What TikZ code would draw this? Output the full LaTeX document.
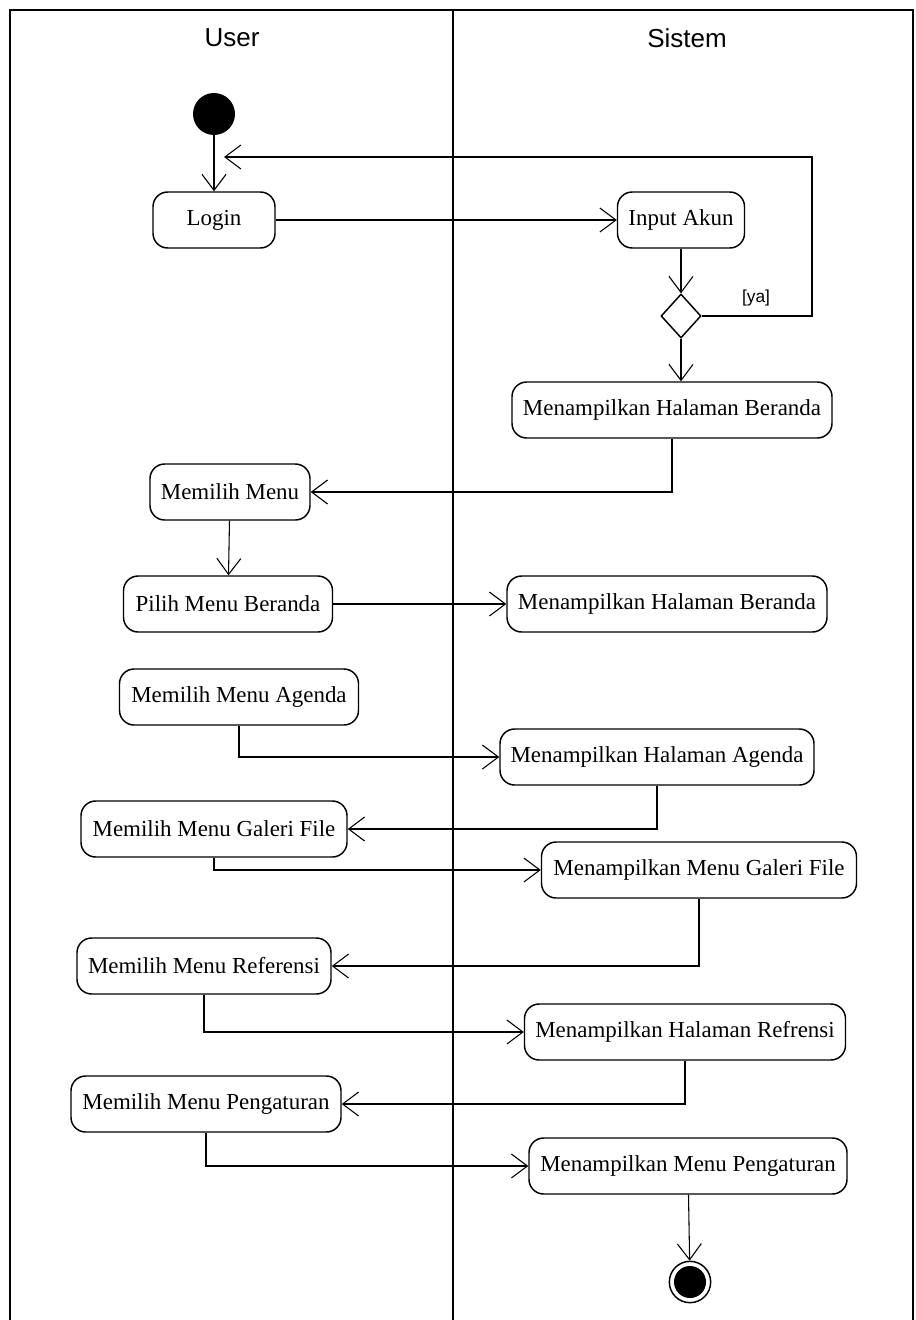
\documentclass[tikz,border=0pt]{standalone}
\usepackage{fontspec}
\setmainfont{Liberation Serif}
\newfontfamily\hdrfont{Liberation Sans}
\usetikzlibrary{arrows.meta,shapes.geometric}
\begin{document}
\begin{tikzpicture}[x=0.75pt,y=-0.75pt,
  act/.style={draw,rounded corners=11pt,line width=1.1pt,minimum height=42pt,inner sep=0pt,
    font=\fontsize{17.2}{20}\selectfont},
  arr/.style={line width=0.8pt,-{Straight Barb[length=12pt,width=18pt,line width=0.8pt]}},
  lane/.style={line width=1.2pt},
  hdr/.style={font=\hdrfont\fontsize{19.5}{22}\selectfont}]
\useasboundingbox (0,0) rectangle (915,1320);
% swimlanes
\draw[lane] (10,1320) -- (10,10) -- (913,10) -- (913,1320);
\draw[lane] (453,10) -- (453,1320);
\node[hdr] (hu) at (232,38) {User};
\node[hdr] (hs) at (687,38) {Sistem};
% nodes
\node[circle,fill=black,minimum size=31.5pt,inner sep=0pt] (start) at (214,114) {};
\node[act,minimum width=91.5pt] (login) at (214,220) {Login};
\node[act,minimum width=95.25pt] (inp) at (681,220) {Input Akun};
\node[diamond,draw,line width=1.1pt,minimum width=30pt,minimum height=33pt,inner sep=0pt] (dia) at (681,316) {};
\node[font=\hdrfont\fontsize{13}{15}\selectfont] (ya) at (756,298) {[ya]};
\node[act,minimum width=240pt] (b1) at (672,410) {Menampilkan Halaman Beranda};
\node[act,minimum width=120pt] (mm) at (230,492) {Memilih Menu};
\node[act,minimum width=156.75pt] (pmb) at (228,604) {Pilih Menu Beranda};
\node[act,minimum width=240pt] (b2) at (667,604) {Menampilkan Halaman Beranda};
\node[act,minimum width=179.25pt] (mma) at (239,697) {Memilih Menu Agenda};
\node[act,minimum width=235.5pt] (mha) at (657,757) {Menampilkan Halaman Agenda};
\node[act,minimum width=199.5pt] (mmg) at (214,829) {Memilih Menu Galeri File};
\node[act,minimum width=236.25pt] (mmgf) at (699,870) {Menampilkan Menu Galeri File};
\node[act,minimum width=190.5pt] (mmr) at (204,966) {Memilih Menu Referensi};
\node[act,minimum width=240.75pt] (mhr) at (685,1032) {Menampilkan Halaman Refrensi};
\node[act,minimum width=202.5pt] (mmp) at (206,1104) {Memilih Menu Pengaturan};
\node[act,minimum width=238.5pt] (mnp) at (688,1166) {Menampilkan Menu Pengaturan};
\node[circle,draw,line width=1.1pt,minimum size=31pt,inner sep=0pt] (end) at (690,1282) {};
\fill (end.center) circle (12pt);
% connectors
\coordinate (lr) at (812,157);
\coordinate (loopend) at (224,157);
\draw[arr] (start) -- (login);
\draw[arr] (login) -- (inp);
\draw[arr] (inp) -- (dia);
\draw[arr] (dia.east) -| (lr) -- (loopend);
\draw[arr] (dia.south) -- (dia.south |- b1.north);
\draw[arr] (b1.south) |- (mm.east);
\draw[arr] (mm) -- (pmb);
\draw[arr] (pmb) -- (b2);
\draw[arr] (mma.south) |- (mha.west);
\draw[arr] (mha.south) |- (mmg.east);
\draw[arr] (mmg.south) |- (mmgf.west);
\draw[arr] (mmgf.south) |- (mmr.east);
\draw[arr] (mmr.south) |- (mhr.west);
\draw[arr] (mhr.south) |- (mmp.east);
\draw[arr] (mmp.south) |- (mnp.west);
\draw[arr] (mnp) -- (end);
\end{tikzpicture}
\end{document}
